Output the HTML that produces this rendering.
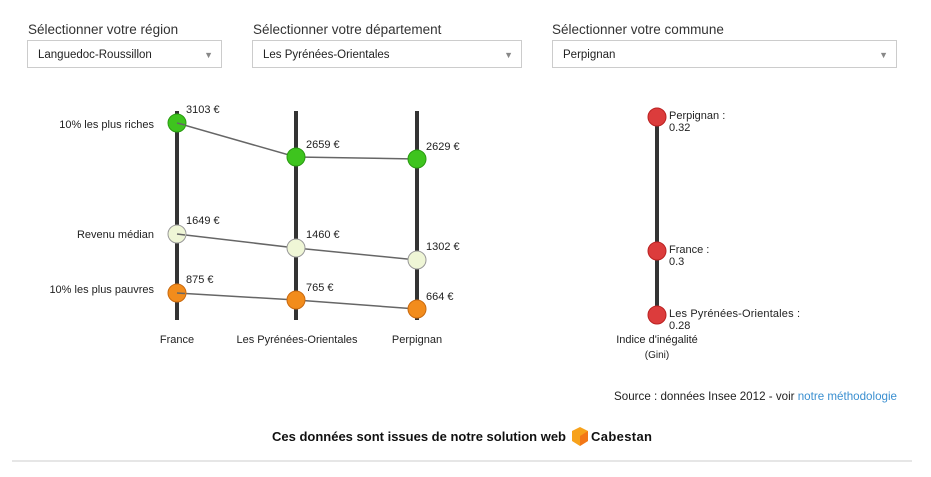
<!DOCTYPE html>
<html><head><meta charset="utf-8"><style>
body{margin:0;width:931px;height:477px;background:#fff;overflow:hidden;font-family:"Liberation Sans",sans-serif;position:relative}
.lbl{position:absolute;font-size:13.5px;color:#333;top:22px}
.sel{position:absolute;top:40px;height:28px;border:1px solid #ccc;box-sizing:border-box;font-size:11.5px;color:#222;line-height:28px;padding-left:10px;background:#fff}
.sel:after{content:"▼";position:absolute;right:8px;top:0;font-size:9px;color:#888}
svg{position:absolute;left:0;top:0}
</style></head><body>
<div class="lbl" style="left:28px">Sélectionner votre région</div>
<div class="lbl" style="left:253px">Sélectionner votre département</div>
<div class="lbl" style="left:552px">Sélectionner votre commune</div>
<div class="sel" style="left:27px;width:195px">Languedoc-Roussillon</div>
<div class="sel" style="left:252px;width:270px">Les Pyrénées-Orientales</div>
<div class="sel" style="left:552px;width:345px">Perpignan</div>
<svg width="931" height="477" font-family="Liberation Sans, sans-serif" font-size="11" fill="#222">
<g stroke="#333" stroke-width="4">
<line x1="177" y1="111" x2="177" y2="320"/><line x1="296" y1="111" x2="296" y2="320"/><line x1="417" y1="111" x2="417" y2="320"/>
<line x1="657" y1="112" x2="657" y2="318"/>
</g>
<g stroke="#666" stroke-width="1.5" fill="none">
<polyline points="177,123 296,157 417,159"/><polyline points="177,234 296,248 417,260"/><polyline points="177,293 296,300 417,309"/>
</g>
<g stroke-width="1">
<circle cx="177" cy="123" r="9" fill="#3ec41e" stroke="#2a9a12"/><circle cx="296" cy="157" r="9" fill="#3ec41e" stroke="#2a9a12"/><circle cx="417" cy="159" r="9" fill="#3ec41e" stroke="#2a9a12"/>
<circle cx="177" cy="234" r="9" fill="#eff6d6" stroke="#999"/><circle cx="296" cy="248" r="9" fill="#eff6d6" stroke="#999"/><circle cx="417" cy="260" r="9" fill="#eff6d6" stroke="#999"/>
<circle cx="177" cy="293" r="9" fill="#f28c1c" stroke="#c96a10"/><circle cx="296" cy="300" r="9" fill="#f28c1c" stroke="#c96a10"/><circle cx="417" cy="309" r="9" fill="#f28c1c" stroke="#c96a10"/>
<circle cx="657" cy="117" r="9" fill="#dc3c3c" stroke="#b22"/><circle cx="657" cy="251" r="9" fill="#dc3c3c" stroke="#b22"/><circle cx="657" cy="315" r="9" fill="#dc3c3c" stroke="#b22"/>
</g>
<g stroke="#666" stroke-width="1.5"><line x1="177" y1="123" x2="185" y2="125"/><line x1="177" y1="234" x2="185" y2="235"/><line x1="177" y1="293" x2="185" y2="293.5"/></g>
<text x="186" y="113">3103 €</text><text x="306" y="148">2659 €</text><text x="426" y="150">2629 €</text>
<text x="186" y="224">1649 €</text><text x="306" y="238">1460 €</text><text x="426" y="250">1302 €</text>
<text x="186" y="283">875 €</text><text x="306" y="291">765 €</text><text x="426" y="300">664 €</text>
<g text-anchor="end"><text x="154" y="128">10% les plus riches</text><text x="154" y="238">Revenu médian</text><text x="154" y="293">10% les plus pauvres</text></g>
<g text-anchor="middle"><text x="177" y="343">France</text><text x="297" y="343">Les Pyrénées-Orientales</text><text x="417" y="343">Perpignan</text>
<text x="657" y="343">Indice d'inégalité</text><text x="657" y="358" font-size="10">(Gini)</text></g>
<text x="669" y="119">Perpignan :</text><text x="669" y="131">0.32</text>
<text x="669" y="253">France :</text><text x="669" y="265">0.3</text>
<text x="669" y="317" textLength="131">Les Pyrénées-Orientales :</text><text x="669" y="329">0.28</text>
<text x="897" y="400" text-anchor="end" font-size="11.6">Source : données Insee 2012 - voir <tspan fill="#3a8fd0">notre méthodologie</tspan></text>
<text x="272" y="441" font-size="13" font-weight="bold" fill="#111">Ces données sont issues de notre solution web</text>
<polygon points="580,427 588,431 588,441 580,446 572,441 572,431" fill="#f7a21b"/>
<polygon points="580,436 588,431 588,441 580,446" fill="#f05a16" opacity="0.6"/>
<text x="591" y="441" font-size="13" font-weight="bold" fill="#111" textLength="61">Cabestan</text>
<line x1="12" y1="461" x2="912" y2="461" stroke="#ccc" stroke-width="1"/>
</svg>
</body></html>
